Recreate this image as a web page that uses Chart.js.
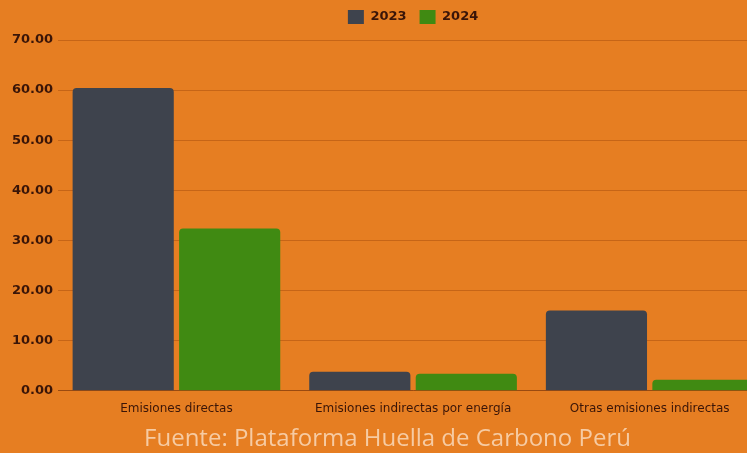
<!DOCTYPE html>
<html>
<head>
<meta charset="utf-8">
<script src="https://cdn.jsdelivr.net/npm/chart.js@4"></script>
<style>
  html, body { margin: 0; padding: 0; background: #e67e22; overflow: hidden; }
  #wrap { width: 768px; height: 453px; }
</style>
</head>
<body>
<div id="wrap"><canvas id="myChart"></canvas></div>
<script>
const categories = ['Emisiones directas', 'Emisiones indirectas por energía', 'Otras emisiones indirectas'];
const years = ['2023', '2024'];
const values2023 = [60.4, 3.8, 16.0];
const values2024 = [32.4, 3.4, 2.2];
const yTicks = [0, 10, 20, 30, 40, 50, 60, 70];

const tickColor = '#3a1508';

const data = {
  labels: categories,
  datasets: [{
    label: years[0],
    data: values2023,
    backgroundColor: '#3e434d',
    borderRadius: 4,
    borderSkipped: 'bottom'
  }, {
    label: years[1],
    data: values2024,
    backgroundColor: '#408a12',
    borderRadius: 4,
    borderSkipped: 'bottom'
  }]
};

const config = {
  type: 'bar',
  data: data,
  options: {
    responsive: true,
    maintainAspectRatio: false,
    animation: false,
    layout: { padding: { top: -3, bottom: -1, left: 7, right: 0 } },
    datasets: { bar: { categoryPercentage: 0.9, barPercentage: 0.95 } },
    plugins: {
      legend: {
        position: 'top',
        fullSize: false,
        labels: {
          color: tickColor,
          boxWidth: 16,
          boxHeight: 14,
          font: { family: 'DejaVu Sans', size: 13, weight: 'bold' },
          padding: 13
        }
      },
      // empty spacer between legend and plot
      subtitle: {
        display: true,
        position: 'top',
        weight: 500,
        text: '',
        font: { size: 1, lineHeight: 1 },
        padding: { top: 5, bottom: 0 }
      },
      title: {
        display: true,
        position: 'bottom',
        text: 'Fuente: Plataforma Huella de Carbono Perú',
        color: '#f6cba3',
        font: { family: 'Open Sans', size: 24, weight: 'normal' },
        padding: { top: 6, bottom: 0 }
      },
      tooltip: { enabled: false }
    },
    scales: {
      x: {
        grid: { display: false },
        border: { color: '#9a4a10' },
        ticks: { color: tickColor, padding: 3, font: { family: 'DejaVu Sans', size: 12 } }
      },
      y: {
        min: 0,
        max: 70,
        afterBuildTicks: axis => { axis.ticks = yTicks.map(v => ({ value: v })); },
        grid: { color: 'rgba(160,70,10,0.45)', drawTicks: false },
        border: { display: false },
        ticks: {
          color: tickColor,
          padding: 5,
          font: { family: 'DejaVu Sans', size: 13, weight: 'bold' },
          callback: v => Number(v).toFixed(2)
        }
      }
    }
  }
};

new Chart(document.getElementById('myChart'), config);
</script>
</body>
</html>
